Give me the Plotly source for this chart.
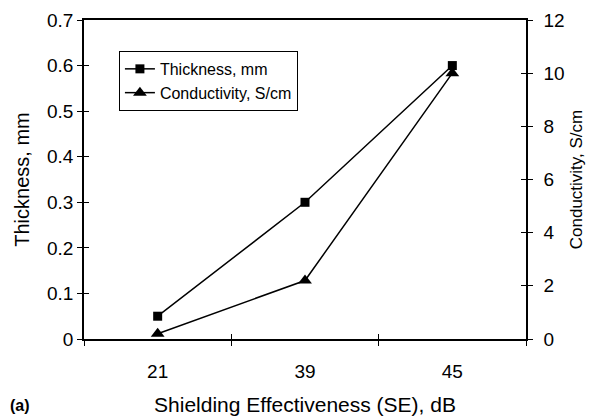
import plotly.graph_objects as go

categories = ["21", "39", "45"]
thickness_mm = [0.05, 0.30, 0.60]
conductivity_S_cm = [0.2, 2.2, 10.0]

FONT = "Liberation Sans, Arial, sans-serif"

fig = go.Figure()
fig.add_trace(go.Scatter(
    x=categories, y=thickness_mm, name="Thickness, mm",
    mode="lines+markers", line=dict(color="black", width=1.5),
    marker=dict(symbol="square", size=9, color="black"),
    xaxis="x", yaxis="y"))
fig.add_trace(go.Scatter(
    x=categories, y=conductivity_S_cm, name="Conductivity, S/cm",
    mode="lines+markers", line=dict(color="black", width=1.5),
    marker=dict(symbol="triangle-up", size=12, color="black"),
    xaxis="x", yaxis="y2"))

axis_common = dict(showgrid=False, zeroline=False, linecolor="black", linewidth=1.5,
                   tickcolor="black", tickwidth=1, ticklen=5, automargin=False,
                   tickfont=dict(family=FONT, size=19, color="black"))
overlay_common = dict(showticklabels=False, showline=False, showgrid=False, zeroline=False,
                      tickcolor="black", ticklen=5, tickwidth=1, automargin=False)

fig.update_layout(
    width=589, height=410,
    margin=dict(l=76, r=71, t=12, b=79),
    paper_bgcolor="white", plot_bgcolor="white",
    font=dict(family=FONT, color="black"),
    showlegend=True,
    legend=dict(x=0.079, y=0.903, xanchor="left", yanchor="top",
                bordercolor="black", borderwidth=1, bgcolor="white",
                font=dict(family=FONT, size=16, color="black"),
                tracegroupgap=0, itemwidth=30),
    xaxis=dict(type="category", categoryorder="array", categoryarray=categories,
               range=[-0.5, 2.5], tickson="boundaries", ticks="outside",
               showline=True, mirror=True, ticklabelstandoff=14,
               title=dict(text="Shielding Effectiveness (SE), dB",
                          font=dict(family=FONT, size=21), standoff=17),
               **axis_common),
    xaxis2=dict(type="category", categoryorder="array", categoryarray=categories,
                range=[-0.5, 2.5], tickson="boundaries", ticks="inside",
                overlaying="x", **overlay_common),
    yaxis=dict(range=[0, 0.7], dtick=0.1, ticks="outside", showline=True,
               tickformat="~g",
               title=dict(text="Thickness, mm", font=dict(family=FONT, size=20), standoff=12),
               **axis_common),
    yaxis2=dict(range=[0, 12], dtick=2, ticks="outside", showline=True,
                overlaying="y", side="right", ticklabelstandoff=7,
                title=dict(text="Conductivity, S/cm", font=dict(family=FONT, size=17), standoff=6),
                **axis_common),
    yaxis3=dict(range=[0, 0.7], dtick=0.1, ticks="inside", overlaying="y", side="left",
                **overlay_common),
    yaxis4=dict(range=[0, 12], dtick=2, ticks="inside", overlaying="y", side="right",
                **overlay_common),
    annotations=[dict(text="<b>(a)</b>", xref="paper", yref="paper", x=-0.172, y=-0.21,
                      xanchor="left", yanchor="middle", showarrow=False,
                      font=dict(family=FONT, size=16, color="black"))],
)

# invisible helper traces so the overlay tick axes are drawn
fig.add_trace(go.Scatter(x=categories, y=thickness_mm, xaxis="x2", yaxis="y3",
                         mode="markers", marker=dict(opacity=0), showlegend=False, hoverinfo="skip"))
fig.add_trace(go.Scatter(x=categories, y=conductivity_S_cm, xaxis="x", yaxis="y4",
                         mode="markers", marker=dict(opacity=0), showlegend=False, hoverinfo="skip"))

fig.write_html("out.html")
